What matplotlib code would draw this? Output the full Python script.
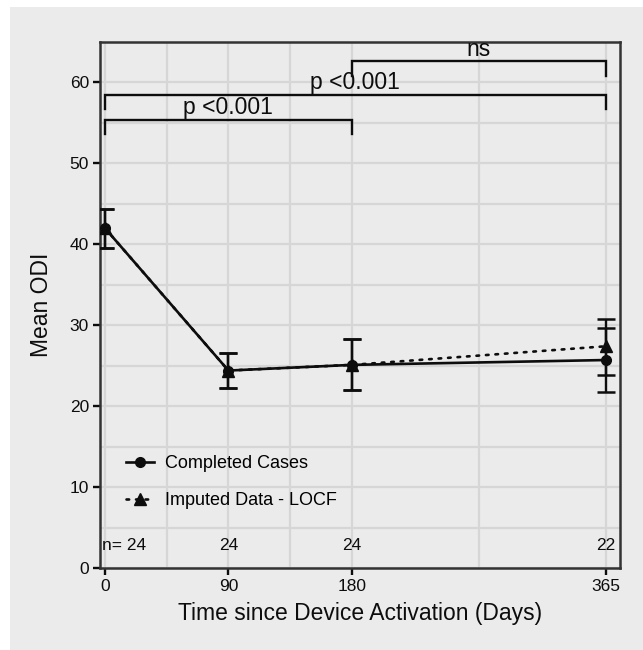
import matplotlib
matplotlib.use("Agg")
import matplotlib.pyplot as plt
from matplotlib.lines import Line2D
from matplotlib.patches import Rectangle

plt.rcParams['font.family'] = ['Liberation Sans', 'DejaVu Sans']

# ---- data ----
days = [0, 90, 180, 365]
completed_mean = [42.0, 24.4, 25.1, 25.7]
completed_lo = [39.5, 22.2, 22.0, 21.7]
completed_hi = [44.4, 26.6, 28.3, 29.7]
imputed_mean = [42.0, 24.4, 25.1, 27.4]
imputed_lo = [39.5, 22.2, 22.0, 23.9]
imputed_hi = [44.4, 26.6, 28.3, 30.8]
n_labels = ["n= 24", "24", "24", "22"]
yticks = [0, 10, 20, 30, 40, 50, 60]
xticks = [0, 90, 180, 365]
comparisons = [(0, 180, 55.4, "p <0.001"), (0, 365, 58.5, "p <0.001"), (180, 365, 62.6, "ns")]

BG = "#ebebeb"
GRID = "#d6d6d6"
INK = "#0d0d0d"
DOTS = (0, (1, 2.6))

fig = plt.figure(figsize=(6.43, 6.5), dpi=100, facecolor="white")
fig.patches.append(Rectangle((10 / 643, 0), 1 - 10 / 643, 1 - 7 / 650,
                             transform=fig.transFigure, facecolor=BG,
                             edgecolor="none", zorder=-10))
ax = fig.add_axes([100 / 643, 1 - 568 / 650, 520 / 643, 526 / 650])
ax.set_facecolor(BG)

ax.set_xlim(-3.6, 375.4)
ax.set_ylim(0, 65)

# grid (major + minor)
for y in range(0, 66, 5):
    ax.axhline(y, color=GRID, lw=1.6, zorder=0)
for x in [0, 45, 90, 135, 180, 272.5, 365]:
    ax.axvline(x, color=GRID, lw=1.6, zorder=0)

# error bars
def yerr(m, lo, hi):
    return [[a - b for a, b in zip(m, lo)], [b - a for a, b in zip(m, hi)]]

ax.errorbar(days, imputed_mean, yerr=yerr(imputed_mean, imputed_lo, imputed_hi),
            fmt="none", ecolor=INK, elinewidth=1.7, capsize=6.5, capthick=1.8, zorder=3)
ax.errorbar(days, completed_mean, yerr=yerr(completed_mean, completed_lo, completed_hi),
            fmt="none", ecolor=INK, elinewidth=1.7, capsize=6.5, capthick=1.8, zorder=3)

ax.plot(days, completed_mean, color=INK, lw=1.9, marker="o", ms=7, zorder=4)
ax.plot(days, imputed_mean, color=INK, lw=1.9, ls=DOTS,
        dash_capstyle="round", marker="^", ms=8, zorder=5)

# n labels
for i, (x, lab) in enumerate(zip(days, n_labels)):
    if i == 0:
        ax.text(-2.5, 2.8, lab, ha="left", va="center", fontsize=12.5, color=INK)
    else:
        ax.text(x, 2.8, lab, ha="center", va="center", fontsize=12.5, color=INK)

# significance brackets
for x0, x1, yb, lab in comparisons:
    ax.plot([x0, x0, x1, x1], [yb - 1.8, yb, yb, yb - 1.8], color=INK, lw=1.7,
            solid_joinstyle="miter", zorder=6)
    ax.text((x0 + x1) / 2, yb + 0.05, lab, ha="center", va="bottom", fontsize=16.5, color=INK)

# legend
handles = [
    Line2D([], [], color=INK, lw=1.9, marker="o", ms=7),
    Line2D([], [], color=INK, lw=1.9, ls=DOTS, dash_capstyle="round", marker="^", ms=8),
]
ax.legend(handles, ["Completed Cases", "Imputed Data - LOCF"], loc="upper left",
          bbox_to_anchor=(0.018, 0.245), frameon=False, fontsize=13,
          handlelength=1.6, handletextpad=0.6, labelspacing=1.1)

# axes styling
ax.set_xticks(xticks)
ax.set_yticks(yticks)
ax.tick_params(axis="both", direction="out", length=5, width=1.7, color=INK,
               labelsize=12.5, labelcolor=INK, pad=3)
for s in ax.spines.values():
    s.set_color("#333333")
    s.set_linewidth(1.8)

ax.set_xlabel("Time since Device Activation (Days)", fontsize=16.5, color=INK, labelpad=6)
ax.set_ylabel("Mean ODI", fontsize=16.5, color=INK, labelpad=12)

fig.savefig("out.png", dpi=100, facecolor=fig.get_facecolor())
